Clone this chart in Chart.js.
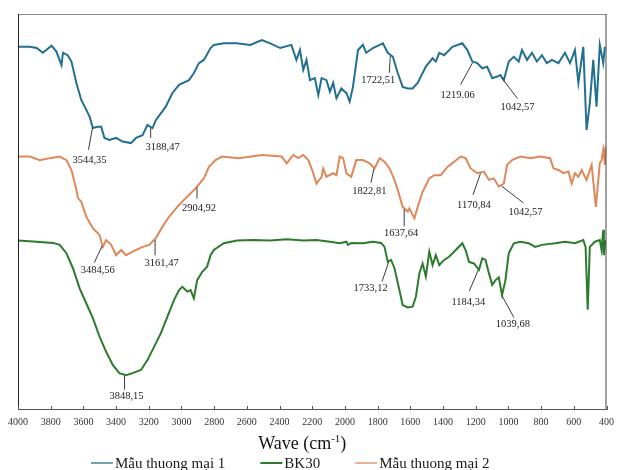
<!DOCTYPE html>
<html>
<head>
<meta charset="utf-8">
<script src="https://cdn.jsdelivr.net/npm/chart.js@4/dist/chart.umd.min.js"></script>
<style>
  html, body { margin: 0; padding: 0; background: #ffffff; }
  canvas { display: block; }
</style>
</head>
<body>
<canvas id="ftir" width="620" height="470"></canvas>
<script>
// FTIR spectra: wavenumber (cm-1) and relative transmittance (arbitrary units, stacked)
const seriesNames = ['Mẫu thuong mại 1', 'BK30', 'Mẫu thuong mại 2'];

const wnSample1 = [4000,3927,3886,3848,3795,3765,3734,3725,3696,3673,3643,3613,3582,3562,3542,3512,3491,3471,3441,3400,3360,3309,3278,3238,3208,3177,3157,3096,3056,3015,2954,2924,2893,2863,2822,2802,2741,2662,2579,2508,2457,2396,2328,2297,2275,2255,2235,2214,2184,2163,2143,2113,2092,2072,2052,2022,1991,1971,1951,1920,1890,1870,1829,1768,1738,1707,1677,1647,1616,1586,1555,1505,1464,1444,1423,1393,1343,1282,1251,1221,1191,1160,1130,1099,1069,1049,1028,998,967,937,917,886,856,826,795,765,734,694,654,623,593,572,542,522,502,481,461,441,420,410];
const tSample1 = [91.7,91.7,91.4,90.2,92.0,90.5,87.1,90.2,89.6,88.0,82.6,78.3,75.8,74.1,71.2,71.5,71.5,68.7,68.2,68.7,67.8,67.4,68.7,69.4,72.0,71.2,73.2,76.6,80.0,82.1,83.3,85.1,87.6,88.4,91.4,92.2,92.6,92.6,92.2,93.4,92.6,91.4,92.2,88.4,90.9,85.9,88.4,83.3,83.8,79.5,83.8,83.3,80.4,82.6,78.7,81.2,80.0,77.9,81.6,90.9,92.2,90.2,91.4,92.6,90.2,89.2,85.1,81.6,81.2,81.2,82.6,86.7,88.8,88.0,90.2,89.6,91.7,92.6,90.9,88.0,87.6,86.3,86.7,83.8,84.2,84.6,83.3,88.0,89.2,88.0,90.9,88.4,90.2,88.0,89.6,87.6,88.4,87.6,90.2,87.6,90.9,82.6,91.7,70.7,77.5,88.4,76.6,92.2,87.6,91.7];

const wnBK30 = [4000,3886,3785,3745,3704,3664,3623,3582,3542,3501,3461,3420,3380,3339,3299,3248,3208,3167,3126,3086,3045,3015,2995,2964,2944,2924,2904,2873,2843,2822,2802,2741,2660,2559,2457,2356,2255,2174,2092,2032,1991,1981,1961,1890,1829,1779,1758,1738,1718,1697,1667,1647,1616,1586,1566,1545,1525,1505,1484,1464,1444,1423,1393,1363,1322,1282,1262,1241,1211,1180,1160,1140,1119,1099,1079,1059,1039,1018,998,967,927,876,836,795,714,653,593,542,528,515,502,471,441,430,420,416,406];
const tBK30 = [42.8,42.5,42.2,41.7,39.6,35.8,30.7,26.9,23.2,18.5,14.7,11.4,9.3,8.8,9.3,10.1,12.6,16.0,19.4,23.6,27.8,30.3,31.1,29.9,30.3,28.2,32.8,34.9,36.2,39.1,40.4,42.1,42.8,42.9,42.8,43.1,42.8,42.9,42.5,42.1,42.5,41.7,42.2,42.1,42.5,42.2,41.2,37.4,37.9,35.8,30.3,26.5,25.9,26.1,28.6,34.5,37.0,33.7,40.0,36.6,39.1,36.6,37.9,38.7,40.4,42.1,40.4,37.4,37.0,35.4,38.3,37.9,34.5,31.6,32.8,33.5,29.0,32.8,39.6,42.1,42.5,42.1,41.2,41.7,42.1,42.5,42.1,42.9,41.2,25.3,41.2,42.5,42.9,40.4,45.5,39.1,42.9];

const wnSample2 = [4000,3927,3866,3805,3745,3704,3673,3643,3633,3613,3582,3542,3501,3481,3461,3430,3400,3369,3339,3299,3238,3197,3157,3116,3076,3015,2974,2913,2863,2832,2792,2752,2650,2508,2387,2356,2316,2285,2255,2224,2194,2174,2143,2133,2113,2072,2052,2032,2011,1991,1961,1931,1890,1849,1819,1788,1758,1727,1697,1677,1647,1616,1606,1575,1555,1525,1484,1454,1414,1373,1332,1292,1262,1231,1191,1150,1119,1089,1059,1028,1008,978,927,866,806,745,724,694,663,633,613,593,572,552,522,491,465,441,430,420,410,406];
const tSample2 = [64.0,64.0,63.1,63.6,64.0,63.1,60.6,55.6,53.5,52.6,48.8,45.9,44.2,41.2,42.9,41.7,39.1,40.4,39.1,40.0,41.2,41.7,43.4,46.3,48.8,51.8,53.5,56.0,58.5,61.4,63.1,64.0,63.6,64.4,64.0,62.3,64.4,63.6,64.4,63.1,59.8,57.2,58.9,61.0,58.9,59.8,59.3,64.0,63.6,59.8,58.9,63.1,63.1,62.3,61.0,63.6,62.7,61.0,58.1,55.6,51.3,50.1,50.9,48.4,51.3,55.1,58.5,59.3,59.3,61.4,62.7,64.0,63.6,61.0,59.8,60.2,58.1,58.5,56.4,57.2,61.9,63.1,64.0,63.6,64.0,63.6,61.0,60.6,59.8,60.2,57.2,59.8,58.9,60.6,58.1,61.9,51.3,62.3,63.1,65.7,61.9,66.5];

const xTickValues = [4000,3800,3600,3400,3200,3000,2800,2600,2400,2200,2000,1800,1600,1400,1200,1000,800,600,400];

// Peak labels (text as printed) and the band positions they point at, per series
const peaksSample1Text = ['3544,35', '3188,47', '1722,51', '1219.06', '1042,57'];
const peaksSample1Wn   = [3544.35, 3188.47, 1722.51, 1219.06, 1042.57];
const peaksBK30Text    = ['3848,15', '1733,12', '1184,34', '1039,68'];
const peaksBK30Wn      = [3348.15, 1733.12, 1184.34, 1039.68];
const peaksSample2Text = ['3484,56', '3161,47', '2904,92', '1822,81', '1637,64', '1170,84', '1042,57'];
const peaksSample2Wn   = [3484.56, 3161.47, 2904.92, 1822.81, 1637.64, 1170.84, 1042.57];

const colors = ['#22708f', '#2c7b2c', '#e0875a'];

function toPoints(xs, ys) { return xs.map((x, i) => ({ x: x, y: ys[i] })); }

// Callout geometry (pixels): leader end and label centre, relative to the band point
const calloutGeom = [
  [ [-4, 23, -3, 34], [0, 11, 12, 20], [-1, 18, -12, 25], [-12, 23, -15, 34], [16, 22, 16, 31] ],
  [ [0, 15, 2, 22], [-6.5, 20, -18, 27], [-9, 22, -10, 33], [12, 23, 11, 30] ],
  [ [-8, 18, -4.5, 26], [0, 16.5, 6.5, 24], [0, 12, 2, 22], [-3, 15, -4.5, 23.5], [0, 18, -3, 25], [-7.5, 22.5, -6.5, 33], [22, 18, 24, 27] ]
];
const peakTexts = [peaksSample1Text, peaksBK30Text, peaksSample2Text];
const peakWns = [peaksSample1Wn, peaksBK30Wn, peaksSample2Wn];

function interpY(ds, wn) {
  const d = ds.data;
  for (let i = 0; i < d.length - 1; i++) {
    const a = d[i], b = d[i + 1];
    if ((wn <= a.x && wn >= b.x) || (wn >= a.x && wn <= b.x)) {
      const t = (wn - a.x) / (b.x - a.x);
      return a.y + t * (b.y - a.y);
    }
  }
  return d[d.length - 1].y;
}

const SERIF = '"Liberation Serif", "Times New Roman", serif';

const decorPlugin = {
  id: 'decor',
  afterDraw(chart) {
    const ctx = chart.ctx;
    const area = chart.chartArea;
    const xs = chart.scales.x, ys = chart.scales.y;
    ctx.save();

    // frame
    ctx.lineWidth = 1;
    ctx.strokeStyle = '#8a8a8a';
    ctx.beginPath(); ctx.moveTo(area.left, area.top + 0.5); ctx.lineTo(area.right, area.top + 0.5); ctx.stroke();
    ctx.strokeStyle = '#444';
    ctx.beginPath(); ctx.moveTo(area.right - 0.5, area.top); ctx.lineTo(area.right - 0.5, area.bottom); ctx.stroke();
    ctx.strokeStyle = '#222';
    ctx.beginPath(); ctx.moveTo(area.left + 0.5, area.top); ctx.lineTo(area.left + 0.5, area.bottom); ctx.stroke();
    ctx.strokeStyle = '#555';
    ctx.beginPath(); ctx.moveTo(area.left, area.bottom - 0.5); ctx.lineTo(area.right, area.bottom - 0.5); ctx.stroke();

    // inward tick marks on the wavenumber axis
    ctx.strokeStyle = '#555';
    xs.ticks.forEach(t => {
      const px = Math.round(xs.getPixelForValue(t.value)) + 0.5;
      ctx.beginPath(); ctx.moveTo(px, area.bottom); ctx.lineTo(px, area.bottom - 4); ctx.stroke();
    });

    // peak callouts
    ctx.font = '10.5px ' + SERIF;
    ctx.fillStyle = '#222';
    ctx.textAlign = 'center';
    ctx.textBaseline = 'middle';
    peakWns.forEach((list, si) => {
      const ds = chart.data.datasets[si];
      list.forEach((wn, k) => {
        const g = calloutGeom[si][k];
        const px = xs.getPixelForValue(wn);
        const py = ys.getPixelForValue(interpY(ds, wn));
        ctx.strokeStyle = '#3a3a3a';
        ctx.lineWidth = 1;
        ctx.beginPath(); ctx.moveTo(px, py + 1); ctx.lineTo(px + g[0], py + g[1]); ctx.stroke();
        ctx.fillText(peakTexts[si][k], px + g[2], py + g[3]);
      });
    });

    // axis title with superscript
    const cx = (area.left + area.right) / 2 - 10;
    const ty = 443;
    const mainFont = '18px ' + SERIF, supFont = '11px ' + SERIF;
    ctx.font = mainFont; const w1 = ctx.measureText('Wave (cm').width;
    ctx.font = supFont; const w2 = ctx.measureText('-1').width;
    ctx.font = mainFont; const w3 = ctx.measureText(')').width;
    let x0 = cx - (w1 + w2 + w3) / 2;
    ctx.textAlign = 'left';
    ctx.textBaseline = 'alphabetic';
    ctx.fillStyle = '#111';
    ctx.font = mainFont; ctx.fillText('Wave (cm', x0, ty + 6);
    ctx.font = supFont; ctx.fillText('-1', x0 + w1, ty - 1);
    ctx.font = mainFont; ctx.fillText(')', x0 + w1 + w2, ty + 6);

    // legend
    ctx.font = '15px ' + SERIF;
    const lineLen = 22, gapText = 2, gapItem = 35;
    const widths = chart.data.datasets.map(d => ctx.measureText(d.label).width);
    const total = widths.reduce((a, b) => a + b, 0) + chart.data.datasets.length * (lineLen + gapText) + gapItem * (chart.data.datasets.length - 1);
    let lx = (area.left + area.right) / 2 - 22 - total / 2;
    const ly = 463;
    chart.data.datasets.forEach((d, i) => {
      ctx.strokeStyle = d.borderColor;
      ctx.lineWidth = i === 1 ? 2 : 1.3;
      ctx.beginPath(); ctx.moveTo(lx, ly); ctx.lineTo(lx + lineLen, ly); ctx.stroke();
      ctx.fillStyle = '#1a1a1a';
      ctx.textBaseline = 'middle';
      ctx.fillText(d.label, lx + lineLen + gapText, ly + 1);
      lx += lineLen + gapText + widths[i] + gapItem;
    });
    ctx.restore();
  }
};

new Chart(document.getElementById('ftir'), {
  type: 'line',
  data: {
    datasets: [
      { label: seriesNames[0], data: toPoints(wnSample1, tSample1), borderColor: colors[0] },
      { label: seriesNames[1], data: toPoints(wnBK30, tBK30), borderColor: colors[1] },
      { label: seriesNames[2], data: toPoints(wnSample2, tSample2), borderColor: colors[2] }
    ]
  },
  options: {
    responsive: false,
    animation: false,
    parsing: false,
    elements: {
      line: { borderWidth: 2, tension: 0, fill: false },
      point: { radius: 0 }
    },
    layout: { padding: { top: 14, left: 18, right: 10, bottom: 0 } },
    scales: {
      x: {
        type: 'linear',
        reverse: true,
        min: 400,
        max: 4000,
        afterBuildTicks: s => { s.ticks = xTickValues.map(v => ({ value: v })); },
        afterFit: s => { s.height = 60; },
        grid: { display: false, drawTicks: false },
        border: { display: false },
        ticks: {
          padding: 6,
          autoSkip: false,
          maxRotation: 0,
          color: '#333',
          font: { family: SERIF, size: 10 },
          callback: v => String(v)
        }
      },
      y: { display: false, min: 0, max: 100 }
    },
    plugins: {
      legend: { display: false },
      tooltip: { enabled: false }
    }
  },
  plugins: [decorPlugin]
});
</script>
</body>
</html>
